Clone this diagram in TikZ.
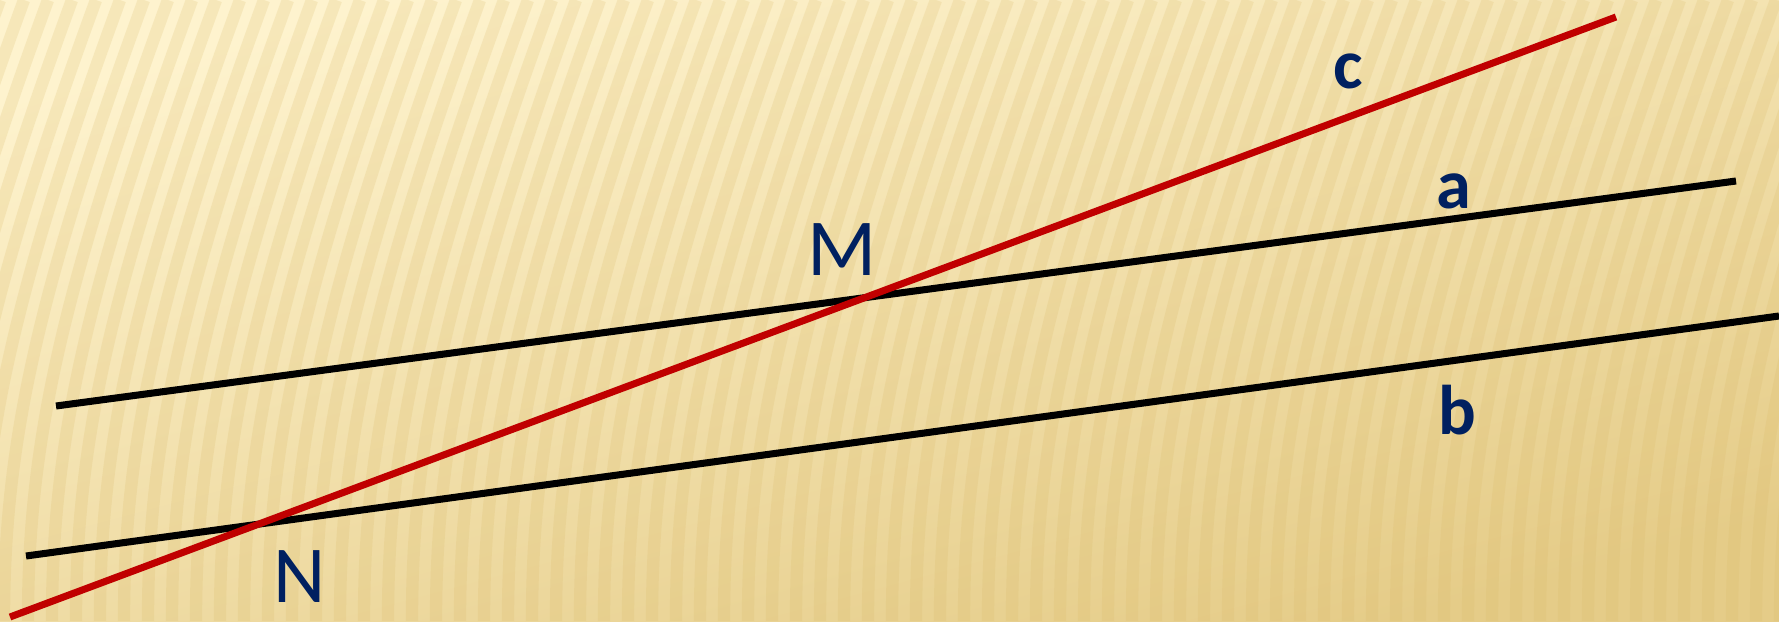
\documentclass[tikz,border=0pt]{standalone}
\usepackage{fontspec}
\newfontfamily\labfont{Carlito}
\definecolor{bgtop}{HTML}{FEF3CE}
\definecolor{bgmid}{HTML}{F5E3A9}
\definecolor{bgbot}{HTML}{E5CC88}
\definecolor{stripe}{HTML}{D9B866}
\definecolor{redline}{HTML}{C00000}
\definecolor{navy}{HTML}{002060}
\tikzset{
  lineblack/.style={line width=2pt, black},
  linered/.style={line width=2pt, redline},
  letter/.style={text=navy, font=\labfont\bfseries\fontsize{20}{20}\selectfont, inner sep=0pt},
  point/.style={text=navy, font=\labfont\fontsize{23}{23}\selectfont, inner sep=0pt}
}
\begin{document}
\begin{tikzpicture}[x=0.01cm, y=-0.01cm]
    \useasboundingbox (0,0) rectangle (1779,621);

    % background
    \shade[top color=bgtop, middle color=bgmid, bottom color=bgbot, shading angle=15] (0,0) rectangle (1779,621);
    \begin{scope}
        \clip (0,0) rectangle (1779,621);
        \foreach \i in {0,...,85}
            \draw[stripe, opacity=0.2, line width=3.5pt]
                (\i*24,0) .. controls (\i*24-110,300) and (\i*24-140,450) .. (\i*24-140,621);
    \end{scope}

    % lines
    \coordinate (a1) at (56,406);
    \coordinate (a2) at (1736,181);
    \coordinate (b1) at (26,556);
    \coordinate (b2) at (1779,316);
    \coordinate (c1) at (10,617);
    \coordinate (c2) at (1616,17);

    \draw[lineblack] (a1) -- (a2);
    \draw[lineblack] (b1) -- (b2);
    \draw[linered] (c1) -- (c2);

    % labels
    \node[letter] (la) at (1454,191) {a};
    \node[letter] (lb) at (1457,410) {b};
    \node[letter] (lc) at (1348,71) {c};
    \node[point] (M) at (842,250) {M};
    \node[point] (N) at (300,577) {N};
\end{tikzpicture}
\end{document}
